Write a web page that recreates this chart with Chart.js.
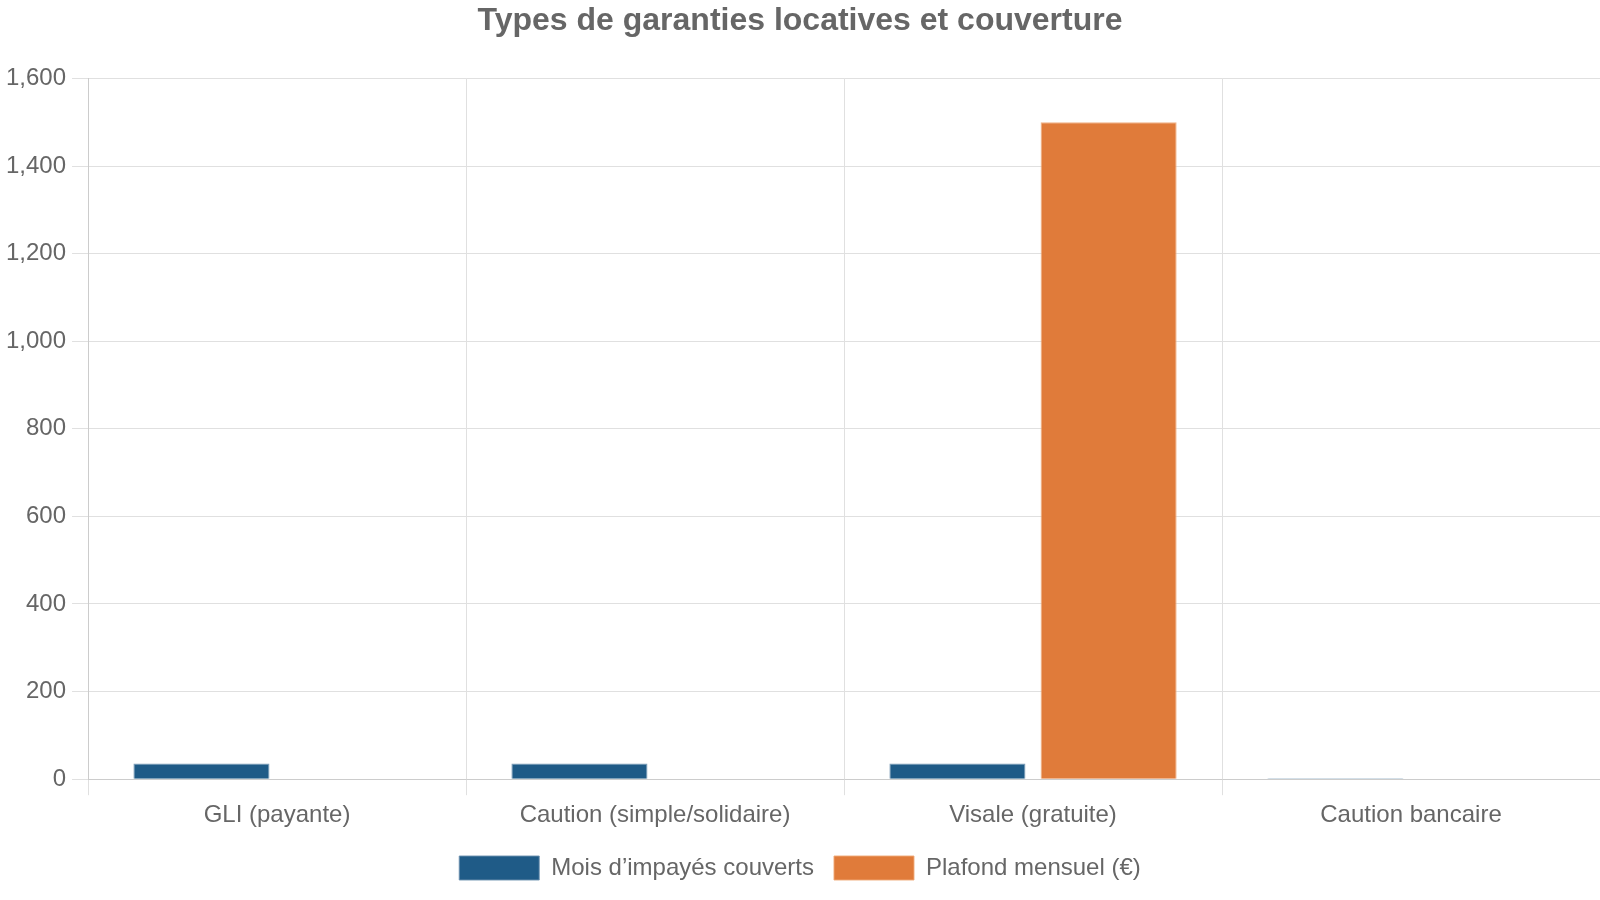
<!DOCTYPE html>
<html>
<head>
<meta charset="utf-8">
<script src="https://cdn.jsdelivr.net/npm/chart.js@4"></script>
<style>
  html, body { margin: 0; padding: 0; background: #ffffff; }
  #wrap { width: 1600px; height: 900px; }
</style>
</head>
<body>
<div id="wrap"><canvas id="c" width="1600" height="900"></canvas></div>
<script>
const categories = ["GLI (payante)", "Caution (simple/solidaire)", "Visale (gratuite)", "Caution bancaire"];
const moisCouverts = [36, 36, 36, 2];
const plafondMensuel = [0, 0, 1500, 0];
const seriesLabels = ["Mois d\u2019impay\u00e9s couverts", "Plafond mensuel (\u20ac)"];
const titleText = "Types de garanties locatives et couverture";

Chart.defaults.font.family = "'Liberation Sans', Arial, sans-serif";
Chart.defaults.color = "#666666";

new Chart(document.getElementById('c'), {
  type: 'bar',
  data: {
    labels: categories,
    datasets: [
      {
        label: seriesLabels[0],
        data: moisCouverts,
        backgroundColor: '#1f5b87',
        borderColor: 'rgba(110,145,175,0.9)',
        borderWidth: 1
      },
      {
        label: seriesLabels[1],
        data: plafondMensuel,
        backgroundColor: '#e07b3a',
        borderColor: 'rgba(240,170,120,0.9)',
        borderWidth: 1
      }
    ]
  },
  options: {
    responsive: false,
    animation: false,
    devicePixelRatio: 1,
    layout: { padding: { left: 0, right: 0, top: 0, bottom: 10 } },
    plugins: {
      title: {
        display: true,
        text: titleText,
        color: '#666666',
        font: { size: 32, weight: 'bold' },
        padding: { top: 2, bottom: 38 }
      },
      legend: {
        position: 'bottom',
        labels: {
          boxWidth: 80,
          boxHeight: 24,
          padding: 20,
          font: { size: 24 },
          color: '#666666'
        }
      },
      tooltip: { enabled: false }
    },
    scales: {
      x: {
        grid: { color: '#e0e0e0', tickLength: 16 },
        border: { color: '#cccccc' },
        ticks: { font: { size: 24 }, color: '#666666', padding: 6 }
      },
      y: {
        min: 0,
        max: 1600,
        grid: { color: '#e0e0e0', tickLength: 16 },
        border: { color: '#cccccc' },
        ticks: { stepSize: 200, font: { size: 24 }, color: '#666666', padding: 6 }
      }
    }
  }
});
</script>
</body>
</html>
